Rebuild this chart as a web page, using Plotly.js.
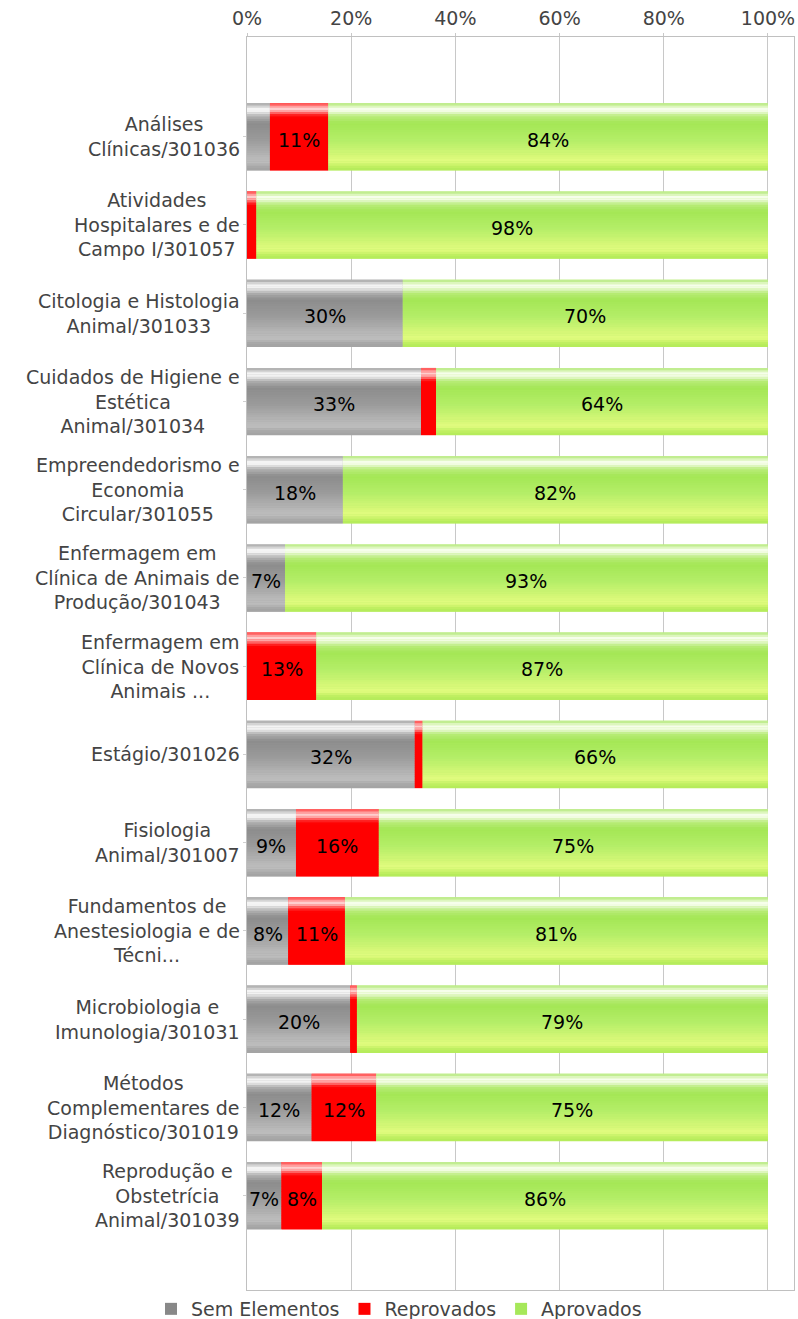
<!DOCTYPE html>
<html><head><meta charset="utf-8">
<script src="https://cdn.plot.ly/plotly-3.0.1.min.js"></script>
<style>html,body{margin:0;padding:0;background:#fff}#chart{width:798px;height:1319px}</style>
</head><body><div id="chart"></div>
<script>
// ---------- DATA ----------
const categories = [
  "Análises<br>Clínicas/301036",
  "Atividades<br>Hospitalares e de<br>Campo I/301057",
  "Citologia e Histologia<br>Animal/301033",
  "Cuidados de Higiene e<br>Estética<br>Animal/301034",
  "Empreendedorismo e<br>Economia<br>Circular/301055",
  "Enfermagem em<br>Clínica de Animais de<br>Produção/301043",
  "Enfermagem em<br>Clínica de Novos<br>Animais ...",
  "Estágio/301026",
  "Fisiologia<br>Animal/301007",
  "Fundamentos de<br>Anestesiologia e de<br>Técni...",
  "Microbiologia e<br>Imunologia/301031",
  "Métodos<br>Complementares de<br>Diagnóstico/301019",
  "Reprodução e<br>Obstetrícia<br>Animal/301039"
];
const semElementos = [4.4, 0, 29.9, 33.4, 18.4, 7.3, 0, 32.2, 9.4, 7.9, 19.8, 12.4, 6.6];
const reprovados   = [11.2, 1.8, 0, 2.9, 0, 0, 13.3, 1.5, 15.9, 10.9, 1.3, 12.4, 7.8];
const aprovados    = [84.4, 98.2, 70.1, 63.7, 81.6, 92.7, 86.7, 66.3, 74.7, 81.2, 78.9, 75.2, 85.6];
const seriesNames  = ["Sem Elementos", "Reprovados", "Aprovados"];
const xTickValues  = [0, 20, 40, 60, 80, 100];
const xTickLabels  = ["0%", "20%", "40%", "60%", "80%", "100%"];

// ---------- STYLE ----------
const FONT = "DejaVu Sans, Verdana, sans-serif";
const FS = 19;
const BAR_W = 0.76;
const STRIPS = 30;
const baseColors = ["#999999", "#ff0000", "#aeea64"];
const legendColors = ["#888888", "#ff0000", "#a6e85a"];
const gradients = [
  [[0,"#a4a4a4"],[0.04,"#cacaca"],[0.09,"#fafafa"],[0.13,"#eeeeee"],[0.2,"#b0b0b0"],[0.3,"#8c8c8c"],[0.55,"#9b9b9b"],[0.8,"#b8b8b8"],[0.88,"#bdbdbd"],[0.95,"#a8a8a8"],[1,"#a2a2a2"]],
  [[0,"#ff4040"],[0.04,"#ff9090"],[0.09,"#ffd6d6"],[0.13,"#ff8a8a"],[0.19,"#ff1010"],[0.22,"#ff0000"],[1,"#ff0000"]],
  [[0,"#b2e87a"],[0.04,"#d6f4b0"],[0.09,"#fbfff4"],[0.13,"#ecfad8"],[0.2,"#b8ec78"],[0.3,"#a4e655"],[0.55,"#b4ee68"],[0.8,"#d8f878"],[0.87,"#e2fc80"],[0.94,"#c2f062"],[1,"#b2ea58"]]
];

function hexToRgb(h){ h=h.replace('#',''); return [parseInt(h.substr(0,2),16),parseInt(h.substr(2,2),16),parseInt(h.substr(4,2),16)]; }
function colorAt(stops, f){
  for(let i=0;i<stops.length-1;i++){
    const [f0,c0]=stops[i],[f1,c1]=stops[i+1];
    if(f>=f0 && f<=f1){
      const t=(f1===f0)?0:(f-f0)/(f1-f0);
      const a=hexToRgb(c0), b=hexToRgb(c1);
      const r=a.map((v,k)=>Math.round(v+(b[k]-v)*t));
      return `rgb(${r[0]},${r[1]},${r[2]})`;
    }
  }
  return stops[stops.length-1][1];
}

const seriesValues = [semElementos, reprovados, aprovados];
const bases = [];
{
  let acc = categories.map(()=>0);
  seriesValues.forEach(vals=>{ bases.push(acc.slice()); acc = acc.map((a,i)=>a+vals[i]); });
}

const traces = [];
// solid base bars
seriesValues.forEach((vals, s)=>{
  traces.push({
    type:"bar", orientation:"h", name:seriesNames[s],
    y:categories, x:vals, base:bases[s], width:BAR_W,
    marker:{color:baseColors[s], line:{width:0}},
    hoverinfo:"skip", showlegend:false
  });
});
// glossy gradient strips
seriesValues.forEach((vals, s)=>{
  for(let k=0;k<STRIPS;k++){
    const f0=k/STRIPS, f1=(k+1)/STRIPS;
    traces.push({
      type:"bar", orientation:"h",
      y:categories, x:vals, base:bases[s],
      width:(f1-f0)*BAR_W + 0.003, offset:-BAR_W/2 + f0*BAR_W,
      marker:{color:colorAt(gradients[s], (f0+f1)/2), line:{width:0}},
      hoverinfo:"skip", showlegend:false
    });
  }
});
// legend entries
seriesValues.forEach((vals, s)=>{
  traces.push({
    type:"bar", orientation:"h", name:seriesNames[s],
    y:[categories[0]], x:[0], base:[0], width:0,
    marker:{color:legendColors[s], line:{width:0}},
    hoverinfo:"skip", showlegend:true
  });
});

const annotations = categories.map((c,i)=>({
  xref:"paper", x:0, xanchor:"right", xshift:-5,
  yref:"y", y:i, yanchor:"middle",
  text:c, showarrow:false, align:"center",
  font:{family:FONT, size:FS, color:"#444444"}
}));
// value labels
seriesValues.forEach((vals, s)=>{
  vals.forEach((v,i)=>{
    if(v>=5){
      annotations.push({
        xref:"x", x:bases[s][i]+v/2, yref:"y", y:i,
        xanchor:"center", yanchor:"middle", yshift:-3,
        text:Math.round(v)+"%", showarrow:false,
        font:{family:FONT, size:FS, color:"#000000"}
      });
    }
  });
});

const layout = {
  width:798, height:1319,
  margin:{l:247, r:4, t:37, b:29, pad:0},
  paper_bgcolor:"#ffffff", plot_bgcolor:"#ffffff",
  barmode:"overlay",
  font:{family:FONT, size:FS, color:"#444444"},
  xaxis:{
    side:"top", range:[0,105], tickvals:xTickValues, ticktext:xTickLabels,
    showgrid:true, gridcolor:"#c8c8c8", gridwidth:1,
    showline:true, mirror:true, linecolor:"#c0c0c0", linewidth:1,
    ticks:"outside", ticklen:3, tickcolor:"#c8c8c8",
    tickfont:{family:FONT, size:FS, color:"#444444"},
    zeroline:false, fixedrange:true
  },
  yaxis:{
    type:"category", categoryorder:"array", categoryarray:categories,
    range:[13.07,-1.13], autorange:false,
    showticklabels:false, ticks:"outside", ticklen:3, tickcolor:"#d0d0d0",
    showline:true, mirror:true, linecolor:"#c0c0c0", linewidth:1,
    showgrid:false, zeroline:false, fixedrange:true
  },
  showlegend:true,
  legend:{
    orientation:"h", xref:"container", x:0.5, xanchor:"center",
    yref:"container", y:(1319-1309)/1319, yanchor:"middle",
    font:{family:FONT, size:FS, color:"#444444"},
    itemwidth:30, tracegroupgap:0, bgcolor:"rgba(0,0,0,0)"
  },
  annotations:annotations
};

Plotly.newPlot("chart", traces, layout, {displayModeBar:false, responsive:false});
</script>
</body></html>
